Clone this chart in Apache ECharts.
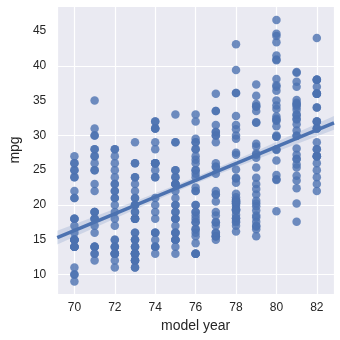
<!DOCTYPE html>
<html>
<head>
<meta charset="utf-8">
<style>
  html, body { margin: 0; padding: 0; background: #ffffff; }
  #chart { width: 340px; height: 340px; }
</style>
<script src="https://cdn.jsdelivr.net/npm/echarts@6/dist/echarts.min.js"></script>
</head>
<body>
<div id="chart"></div>
<script>
// Fuel economy (mpg) of cars by model year, with a linear fit and its confidence band.
const years = [70, 71, 72, 73, 74, 75, 76, 77, 78, 79, 80, 81, 82];

const mpg70 = [18, 15, 18, 16, 17, 15, 14, 14, 14, 15, 15, 14, 15, 14, 24, 22, 18, 21, 27, 26, 25, 24, 25, 26, 21, 10, 10, 11, 9];
const mpg71 = [27, 28, 25, 25, 19, 16, 17, 19, 18, 14, 14, 14, 14, 12, 13, 13, 18, 22, 19, 18, 23, 28, 30, 30, 31, 35, 27, 26];
const mpg72 = [24, 25, 23, 20, 21, 13, 14, 15, 14, 17, 11, 13, 12, 13, 19, 15, 13, 13, 14, 18, 22, 21, 26, 22, 28, 23, 28, 27];
const mpg73 = [13, 14, 13, 14, 15, 12, 13, 13, 14, 13, 12, 13, 18, 16, 18, 18, 23, 26, 11, 12, 13, 12, 18, 20, 21, 22, 18, 19, 21, 26, 15, 16, 29, 24, 20, 19, 15, 24, 20, 11];
const mpg74 = [20, 21, 19, 15, 31, 26, 32, 25, 16, 16, 18, 16, 13, 14, 14, 14, 29, 26, 26, 31, 32, 28, 24, 26, 24, 26, 31];
const mpg75 = [19, 18, 15, 15, 16, 15, 16, 14, 17, 16, 15, 18, 21, 20, 13, 29, 23, 20, 23, 24, 25, 24, 18, 29, 19, 23, 23, 22, 25, 33];
const mpg76 = [28, 25, 25, 26, 27, 17.5, 16, 15.5, 14.5, 22, 22, 24, 22.5, 29, 24.5, 29, 33, 20, 18, 18.5, 17.5, 29.5, 32, 28, 26.5, 20, 13, 19, 19, 16.5, 16.5, 13, 13, 13];
const mpg77 = [31.5, 30, 36, 25.5, 33.5, 17.5, 17, 15.5, 15, 17.5, 20.5, 19, 18.5, 16, 15.5, 15.5, 16, 29, 24.5, 26, 25.5, 30.5, 33.5, 30, 30.5, 22, 21.5, 21.5];
const mpg78 = [43.1, 36.1, 32.8, 39.4, 36.1, 19.9, 19.4, 20.2, 19.2, 20.5, 20.2, 25.1, 20.5, 19.4, 20.6, 20.8, 18.6, 18.1, 19.2, 17.7, 18.1, 17.5, 30, 27.5, 27.2, 30.9, 21.1, 23.2, 23.8, 23.9, 20.3, 17, 21.6, 16.2, 31.5, 29.5];
const mpg79 = [21.5, 19.8, 22.3, 20.2, 20.6, 17, 17.6, 16.5, 18.2, 16.9, 15.5, 19.2, 18.5, 31.9, 34.1, 35.7, 27.4, 25.4, 23, 27.2, 23.9, 34.2, 34.5, 31.8, 37.3, 28.4, 28.8, 26.8, 33.5];
const mpg80 = [41.5, 38.1, 32.1, 37.2, 28, 26.4, 24.3, 19.1, 34.3, 29.8, 31.3, 37, 32.2, 46.6, 27.9, 40.8, 44.3, 43.4, 36.4, 30, 44.6, 40.9, 33.8, 29.8, 32.7, 23.7, 35, 23.6, 32.4];
const mpg81 = [27.2, 26.6, 25.8, 23.5, 30, 39.1, 39, 35.1, 32.3, 37, 37.7, 34.1, 34.7, 34.4, 29.9, 33, 34.5, 33.7, 32.4, 32.9, 31.6, 28.1, 30.7, 25.4, 24.2, 22.4, 26.6, 20.2, 17.6];
const mpg82 = [28, 27, 34, 31, 29, 27, 24, 23, 36, 37, 31, 38, 36, 36, 36, 34, 38, 32, 38, 25, 38, 26, 22, 32, 36, 27, 27, 44, 32, 28, 31];

const mpgByYear = [mpg70, mpg71, mpg72, mpg73, mpg74, mpg75, mpg76, mpg77, mpg78, mpg79, mpg80, mpg81, mpg82];

// Regression line and confidence half-width, sampled across the x range.
const fitX = [69.15, 71, 73, 75, 76, 77, 79, 81, 82.85];
const fitY = [15.3, 17.53, 19.94, 22.34, 23.55, 24.75, 27.16, 29.57, 31.8];
const fitHalf = [1.0, 0.8, 0.61, 0.49, 0.48, 0.49, 0.61, 0.8, 1.0];

const xTicks = [70, 72, 74, 76, 78, 80, 82];
const yTicks = [10, 15, 20, 25, 30, 35, 40, 45];

const points = [];
years.forEach((yr, i) => {
  mpgByYear[i].forEach(v => points.push([yr, v]));
});

const lineData = fitX.map((x, i) => [x, fitY[i]]);
const bandUpper = fitX.map((x, i) => [x, fitY[i] + fitHalf[i]]);
const bandLower = fitX.map((x, i) => [x, fitY[i] - fitHalf[i]]);

const textColor = '#262626';
const font = '"Liberation Sans", Arial, sans-serif';

const chart = echarts.init(document.getElementById('chart'), null, { renderer: 'canvas' });

chart.setOption({
  animation: false,
  backgroundColor: '#ffffff',
  grid: {
    left: 49, right: 6, top: 6, bottom: 46,
    show: true, backgroundColor: '#eaeaf2', borderWidth: 0
  },
  xAxis: {
    type: 'value',
    min: 69.15,
    max: 82.85,
    name: 'model year',
    nameLocation: 'middle',
    nameGap: 24,
    nameTextStyle: { color: textColor, fontSize: 14, fontFamily: font },
    axisLine: { show: false },
    axisTick: { show: false },
    splitLine: { show: true, lineStyle: { color: '#ffffff', width: 1.2 } },
    axisLabel: {
      color: textColor, fontSize: 12, fontFamily: font, margin: 8,
      customValues: xTicks
    },
    splitNumber: 7
  },
  yAxis: {
    type: 'value',
    min: 7.2,
    max: 48.6,
    name: 'mpg',
    nameLocation: 'middle',
    nameGap: 27,
    nameTextStyle: { color: textColor, fontSize: 14, fontFamily: font },
    axisLine: { show: false },
    axisTick: { show: false },
    splitLine: { show: true, lineStyle: { color: '#ffffff', width: 1.2 } },
    axisLabel: {
      color: textColor, fontSize: 12, fontFamily: font, margin: 11,
      customValues: yTicks
    }
  },
  series: [
    {
      type: 'scatter',
      data: points,
      symbol: 'circle',
      symbolSize: 8.5,
      itemStyle: { color: '#4c72b0', opacity: 0.8 },
      z: 2
    },
    {
      type: 'custom',
      data: [0],
      z: 3,
      silent: true,
      renderItem: function (params, api) {
        const pts = bandUpper.map(p => api.coord(p))
          .concat(bandLower.slice().reverse().map(p => api.coord(p)));
        return {
          type: 'polygon',
          shape: { points: pts },
          style: { fill: 'rgba(76,114,176,0.18)', stroke: 'none' }
        };
      }
    },
    {
      type: 'line',
      data: lineData,
      symbol: 'none',
      lineStyle: { color: '#4c72b0', width: 3.5 },
      z: 4
    }
  ]
});
</script>
</body>
</html>
